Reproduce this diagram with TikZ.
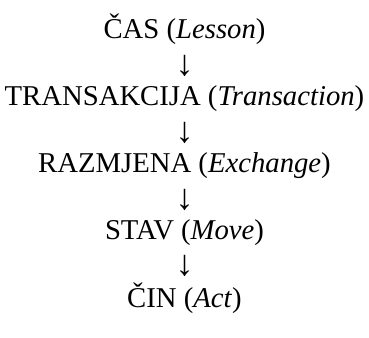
\documentclass[tikz,border=0pt]{standalone}
\usepackage{fontspec}
\setmainfont{Liberation Serif}
\begin{document}
\begin{tikzpicture}[x=1pt,y=1pt,
  lvl/.style={anchor=base,inner sep=0pt,font=\fontsize{28.7}{34}\selectfont},
  arr/.style={anchor=base,inner sep=0pt,font=\fontsize{36}{40}\selectfont}]
\useasboundingbox (0,0) rectangle (369,337);
\node[lvl] (l1) at (184.5,298) {ČAS (\textit{Lesson})};
\node[arr] (a1) at (184.5,261.5) {↓};
\node[lvl] (l2) at (184.5,231) {TRANSAKCIJA (\textit{Transaction})};
\node[arr] (a2) at (184.5,194.5) {↓};
\node[lvl] (l3) at (184.5,164) {RAZMJENA (\textit{Exchange})};
\node[arr] (a3) at (184.5,127.5) {↓};
\node[lvl] (l4) at (184.5,97) {STAV (\textit{Move})};
\node[arr] (a4) at (184.5,61) {↓};
\node[lvl] (l5) at (184.5,30) {ČIN (\textit{Act})};
\end{tikzpicture}
\end{document}
